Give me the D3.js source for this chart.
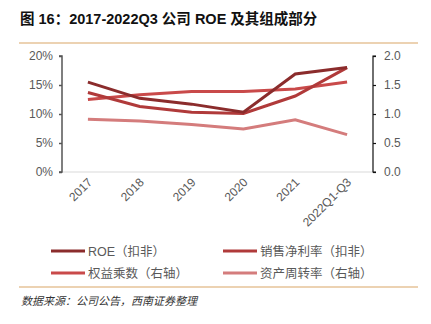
<!DOCTYPE html>
<html>
<head>
<meta charset="utf-8">
<script src="https://cdn.jsdelivr.net/npm/d3@7"></script>
<style>
body { margin: 0; background: #fff; }
svg text { font-family: "Liberation Sans", "Noto Sans CJK SC", sans-serif; }
</style>
</head>
<body>
<div id="chart"></div>
<script>
var width = 431, height = 324;

var years = ["2017", "2018", "2019", "2020", "2021", "2022Q1-Q3"];
var roe = [15.5, 12.7, 11.7, 10.3, 16.9, 18.0];
var netMargin = [13.7, 11.3, 10.3, 10.1, 13.1, 18.0];
var equityMult = [1.25, 1.33, 1.39, 1.39, 1.43, 1.55];
var assetTurn = [0.91, 0.88, 0.82, 0.74, 0.90, 0.645];
var leftTicks = [0, 5, 10, 15, 20];
var rightTicks = [0, 0.5, 1.0, 1.5, 2.0];

var series = [
    {name: "ROE（扣非）", values: roe, axis: "left", color: "#8b2c2c"},
    {name: "销售净利率（扣非）", values: netMargin, axis: "left", color: "#b03a3a"},
    {name: "权益乘数（右轴）", values: equityMult, axis: "right", color: "#c94a4a"},
    {name: "资产周转率（右轴）", values: assetTurn, axis: "right", color: "#d47c7c"}
];

var plot = {left: 62, right: 373, top: 56, bottom: 172};

var svg = d3.select("#chart").append("svg")
    .attr("width", width)
    .attr("height", height);

// title + rules
svg.append("text")
    .attr("x", 20).attr("y", 24)
    .attr("font-size", 14.5).attr("font-weight", "bold")
    .attr("fill", "#111")
    .text("图 16：2017-2022Q3 公司 ROE 及其组成部分");

svg.append("line")
    .attr("x1", 19).attr("x2", 418).attr("y1", 43).attr("y2", 43)
    .attr("stroke", "#d9a566").attr("stroke-width", 1.2);

svg.append("line")
    .attr("x1", 19).attr("x2", 418).attr("y1", 287).attr("y2", 287)
    .attr("stroke", "#d9a566").attr("stroke-width", 1.2);

svg.append("text")
    .attr("x", 21).attr("y", 305)
    .attr("font-size", 11).attr("font-style", "italic")
    .attr("fill", "#333")
    .text("数据来源：公司公告，西南证券整理");

var x = d3.scaleBand().domain(years).range([plot.left, plot.right]),
    yL = d3.scaleLinear().domain([0, 20]).range([plot.bottom, plot.top]),
    yR = d3.scaleLinear().domain([0, 2]).range([plot.bottom, plot.top]);

// baseline
svg.append("line")
    .attr("x1", plot.left).attr("x2", plot.right)
    .attr("y1", plot.bottom).attr("y2", plot.bottom)
    .attr("stroke", "#d9d9d9");

var leftAxis = d3.axisLeft(yL).tickValues(leftTicks)
    .tickSize(3).tickPadding(6)
    .tickFormat(function(d) { return d + "%"; });
var rightAxis = d3.axisRight(yR).tickValues(rightTicks)
    .tickSize(3).tickPadding(8)
    .tickFormat(d3.format(".1f"));

var gl = svg.append("g")
    .attr("transform", "translate(" + plot.left + ",0)")
    .call(leftAxis);
gl.select(".domain").attr("d", "M-3," + yL(20) + "H0V" + yL(0) + "H-3")
    .attr("stroke", "#555").attr("stroke-width", 1.5);
gl.selectAll(".tick line").attr("stroke", "#555").attr("stroke-width", 1.5);

var gr = svg.append("g")
    .attr("transform", "translate(" + plot.right + ",0)")
    .call(rightAxis);
gr.select(".domain").attr("d", "M3," + yR(2) + "H0V" + yR(0) + "H3")
    .attr("stroke", "#111").attr("stroke-width", 1.2);
gr.selectAll(".tick line").attr("stroke", "#111").attr("stroke-width", 1.2);

svg.selectAll(".tick text")
    .attr("font-size", 12).attr("fill", "#595959")
    .attr("font-family", "Liberation Sans, sans-serif");

// rotated x labels
svg.selectAll(".xlab")
    .data(years)
    .enter().append("text")
    .attr("class", "xlab")
    .attr("text-anchor", "end")
    .attr("font-size", 12).attr("fill", "#595959")
    .attr("transform", function(d) {
        return "translate(" + (x(d) + x.bandwidth() / 2 + 5) + ",183) rotate(-45)";
    })
    .text(function(d) { return d; });

// lines
var lineFor = function(s) {
    var yy = s.axis === "left" ? yL : yR;
    return d3.line()
        .x(function(d, i) { return x(years[i]) + x.bandwidth() / 2; })
        .y(function(d) { return yy(d); })(s.values);
};

svg.selectAll(".series")
    .data(series.slice().reverse())
    .enter().append("path")
    .attr("class", "series")
    .attr("d", lineFor)
    .attr("fill", "none")
    .attr("stroke", function(d) { return d.color; })
    .attr("stroke-width", 3);

// legend
var legPos = [[51, 251], [223, 251], [51, 273], [223, 273]];
var leg = svg.selectAll(".leg")
    .data(series)
    .enter().append("g")
    .attr("class", "leg")
    .attr("transform", function(d, i) { return "translate(" + legPos[i][0] + "," + legPos[i][1] + ")"; });

leg.append("line")
    .attr("x1", 0).attr("x2", 34).attr("y1", 0).attr("y2", 0)
    .attr("stroke", function(d) { return d.color; })
    .attr("stroke-width", 3);

leg.append("text")
    .attr("x", 37).attr("y", 4.5)
    .attr("font-size", 12.5).attr("fill", "#595959")
    .text(function(d) { return d.name; });
</script>
</body>
</html>
